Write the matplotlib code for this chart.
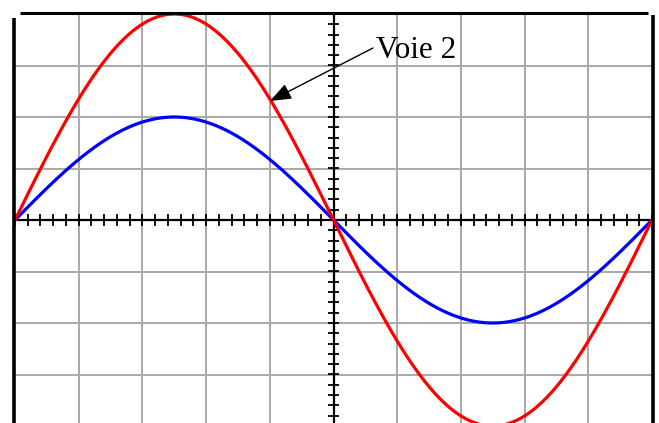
import numpy as np
import matplotlib.pyplot as plt

# Oscilloscope screen: 10 x 8 divisions, both channels in divisions
n_div_x = 10
n_div_y = 8
period_div = 10.0        # one full period across the screen
voie1_amplitude = 2.0    # blue trace
voie2_amplitude = 4.0    # red trace
label_text = "Voie 2"

# Screen scale: pixel geometry of the screen inside the figure
px_per_div_x = 63.7
px_per_div_y = 51.5
x0_px, y0_px = 15, 220
W, H = 659, 423


def to_data(px, py):
    return (px - x0_px) / px_per_div_x, (y0_px - py) / px_per_div_y


fig = plt.figure(figsize=(W / 100, H / 100), dpi=100)
ax = fig.add_axes([0, 0, 1, 1])
xmin, ymax = to_data(0, 0)
xmax, ymin = to_data(W, H)
ax.set_xlim(xmin, xmax)
ax.set_ylim(ymin, ymax)
ax.axis('off')

half_y = n_div_y / 2
mid_x = n_div_x / 2

# grid, kept inside the screen
grid_color = '#a8a8a8'
gx = [x for x in range(1, n_div_x) if x != mid_x]
gy = [y for y in range(-n_div_y // 2 + 1, n_div_y // 2) if y != 0]
ax.vlines(gx, -half_y, half_y, color=grid_color, lw=1.4, zorder=1)
ax.hlines(gy, 0, n_div_x, color=grid_color, lw=1.4, zorder=1)

# graduated centre axes
ax.hlines(0, 0, n_div_x, color='black', lw=1.6, zorder=2)
ax.vlines(mid_x, -half_y, half_y, color='black', lw=1.6, zorder=2)
xt = np.arange(0, n_div_x + 0.01, 0.2)
ax.vlines(xt, -0.12, 0.12, color='black', lw=1.3, zorder=2)
yt = np.arange(-half_y, half_y + 0.01, 0.2)
ax.hlines(yt, mid_x - 0.08, mid_x + 0.08, color='black', lw=1.3, zorder=2)

# traces
t = np.linspace(0, n_div_x, 600)
ax.plot(t, voie1_amplitude * np.sin(2 * np.pi * t / period_div), color='#0000ff', lw=2.3, zorder=3)
ax.plot(t, voie2_amplitude * np.sin(2 * np.pi * t / period_div), color='#ff0000', lw=2.3, zorder=4)

# screen frame
ax.plot([-0.01, -0.01], [ymin, 3.92], color='black', lw=2.6, solid_capstyle='butt', zorder=5)
ax.plot([0.08, 9.94], [4.02, 4.02], color='black', lw=2.2, solid_capstyle='butt', zorder=5)
ax.plot([10.02, 10.02], [ymin, 3.98], color='black', lw=2.6, solid_capstyle='butt', zorder=5)

# channel label with arrow
tip = to_data(270, 101)
tail = to_data(373, 48)
ax.annotate('', xy=tip, xytext=tail,
            arrowprops=dict(arrowstyle='-|>,head_length=1.3,head_width=0.5',
                            mutation_scale=10, color='black', lw=1.0,
                            shrinkA=0, shrinkB=0), zorder=6)
tx, ty = to_data(376, 58)
ax.text(tx, ty, label_text, fontsize=22.5, family='Liberation Serif',
        ha='left', va='baseline', zorder=6)

fig.savefig('out.png', dpi=100)
